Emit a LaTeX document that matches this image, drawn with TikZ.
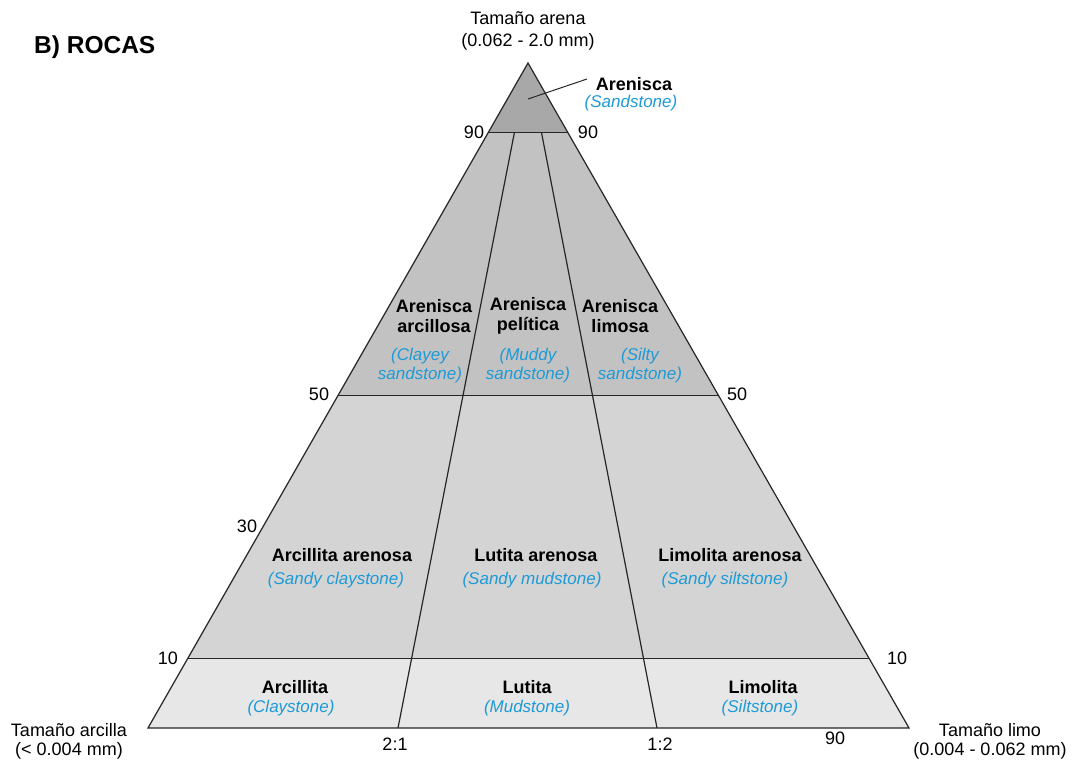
\documentclass[tikz,border=0pt]{standalone}
\usepackage{fontspec}
\setmainfont{Liberation Sans}
\usetikzlibrary{calc}
\definecolor{labelblue}{HTML}{1E9AD6}
\definecolor{bandtop}{HTML}{A8A8A8}
\definecolor{bandhigh}{HTML}{C2C2C2}
\definecolor{bandmid}{HTML}{D4D4D4}
\definecolor{bandlow}{HTML}{E7E7E7}
\begin{document}
\begin{tikzpicture}[x=1pt,y=-1pt,
  edge/.style={draw=black!85, line width=1.2pt, line join=miter},
  rockname/.style={font=\fontsize{18}{20}\selectfont\bfseries, inner sep=0pt, align=center},
  engname/.style={font=\fontsize{17}{19}\selectfont\itshape, text=labelblue, inner sep=0pt, align=center},
  axisname/.style={font=\fontsize{18}{19}\selectfont, inner sep=0pt, align=center},
  ticklabel/.style={font=\fontsize{18}{18}\selectfont, inner sep=0pt}]
\useasboundingbox (0,0) rectangle (1075,765);

% corners of the ternary diagram
\coordinate (A) at (528,63);   % sand
\coordinate (C) at (148,728);  % clay
\coordinate (S) at (909,728);  % silt
% 10, 50 and 90 % sand lines
\coordinate (L10) at ($(C)!0.104!(A)$);
\coordinate (R10) at ($(S)!0.104!(A)$);
\coordinate (L50) at ($(C)!0.5!(A)$);
\coordinate (R50) at ($(S)!0.5!(A)$);
\coordinate (L90) at ($(C)!0.895!(A)$);
\coordinate (R90) at ($(S)!0.895!(A)$);
% clay:silt 2:1 and 1:2 dividers
\coordinate (D1) at (398,728);
\coordinate (D2) at (657,728);
\coordinate (E1) at ($(D1)!0.895!(A)$);
\coordinate (E2) at ($(D2)!0.895!(A)$);

% grey bands
\fill[bandlow]  (C) -- (S) -- (R10) -- (L10) -- cycle;
\fill[bandmid]  (L10) -- (R10) -- (R50) -- (L50) -- cycle;
\fill[bandhigh] (L50) -- (R50) -- (R90) -- (L90) -- cycle;
\fill[bandtop]  (L90) -- (R90) -- (A) -- cycle;

% outline and class boundaries
\draw[edge] (C) -- (S) -- (A) -- cycle;
\draw[edge] (L10) -- (R10);
\draw[edge] (L50) -- (R50);
\draw[edge] (L90) -- (R90);
\draw[edge] (D1) -- (E1);
\draw[edge] (D2) -- (E2);

% title and end-member names
\node[anchor=west, font=\fontsize{24.5}{26}\selectfont\bfseries, inner sep=0pt] (title) at (34,47) {B) ROCAS};
\node[axisname, font=\fontsize{18}{22}\selectfont] (sandname) at (528,31) {Tamaño arena\\(0.062 - 2.0 mm)};
\node[axisname] (clayname) at (69,741) {Tamaño arcilla\\(< 0.004 mm)};
\node[axisname] (siltname) at (990,741) {Tamaño limo\\(0.004 - 0.062 mm)};

% percentage and ratio marks
\node[ticklabel] (t90l) at (474,132) {90};
\node[ticklabel] (t90r) at (588,132) {90};
\node[ticklabel] (t50l) at (319,394) {50};
\node[ticklabel] (t50r) at (737,394) {50};
\node[ticklabel] (t30l) at (247,526) {30};
\node[ticklabel] (t10l) at (168,658) {10};
\node[ticklabel] (t10r) at (897,658) {10};
\node[ticklabel] (r21) at (395,744) {2:1};
\node[ticklabel] (r12) at (660,744) {1:2};
\node[ticklabel] (t90b) at (835,738) {90};

% sandstone, labelled outside the triangle
\node[rockname] (sst) at (634,84) {Arenisca};
\node[engname] (sste) at (631,103) {(Sandstone)};
\coordinate (sstpt) at (528,99);
\coordinate (sstend) at (587,79);
\draw[line width=1pt, black!85] (sstpt) -- (sstend);

% 50-90 % sand
\node[rockname] (acs) at (434,316) {Arenisca\\arcillosa};
\node[engname] (acse) at (420,366) {(Clayey\\sandstone)};
\node[rockname] (pes) at (528,316) {Arenisca\\pelítica};
\node[engname] (pese) at (528,366) {(Muddy\\sandstone)};
\node[rockname] (lms) at (620,316) {Arenisca\\limosa};
\node[engname] (lmse) at (640,366) {(Silty\\sandstone)};

% 10-50 % sand
\node[rockname] (aca) at (342,555) {Arcillita arenosa};
\node[engname] (acae) at (336,580) {(Sandy claystone)};
\node[rockname] (lta) at (536,555) {Lutita arenosa};
\node[engname] (ltae) at (532,580) {(Sandy mudstone)};
\node[rockname] (lma) at (730,555) {Limolita arenosa};
\node[engname] (lmae) at (725,580) {(Sandy siltstone)};

% below 10 % sand
\node[rockname] (acl) at (295,687) {Arcillita};
\node[engname] (acle) at (291,708) {(Claystone)};
\node[rockname] (lut) at (527,687) {Lutita};
\node[engname] (lute) at (527,708) {(Mudstone)};
\node[rockname] (lim) at (763,687) {Limolita};
\node[engname] (lime) at (760,708) {(Siltstone)};
\end{tikzpicture}
\end{document}
